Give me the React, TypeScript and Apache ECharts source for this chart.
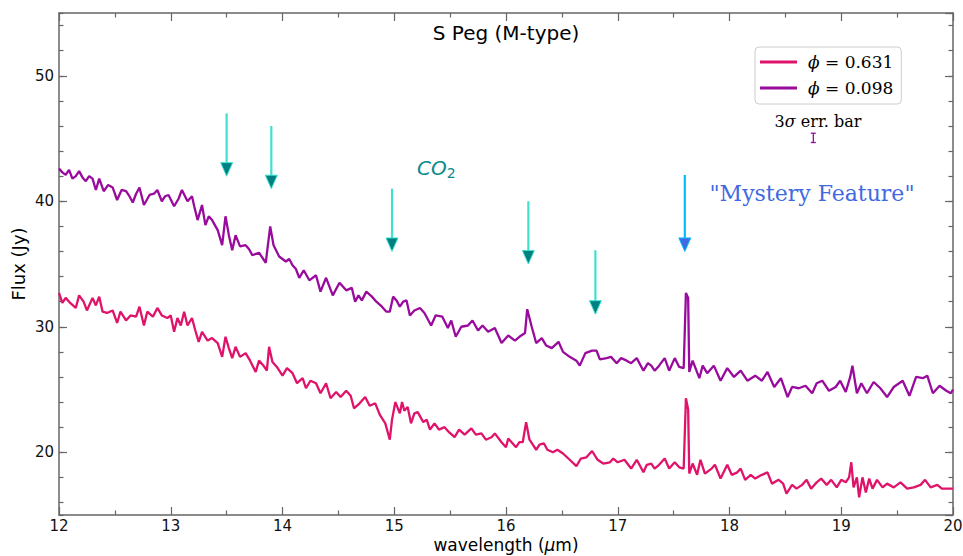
import React, { useEffect, useRef } from "react";
import * as echarts from "echarts";

// wavelength (μm), flux (Jy) — phase 0.631
const phase0631: [number, number][] = [
  [12.0, 32.7], [12.03, 31.9], [12.06, 32.3], [12.1, 31.9], [12.15, 31.5], [12.18, 32.5], [12.22, 32.0], [12.25, 31.3],
  [12.3, 32.3], [12.33, 31.7], [12.36, 32.4], [12.39, 31.2], [12.43, 31.1], [12.48, 31.3], [12.52, 30.3], [12.55, 31.2],
  [12.6, 30.5], [12.64, 30.9], [12.69, 30.8], [12.72, 31.6], [12.76, 30.1], [12.79, 31.2], [12.84, 30.8], [12.88, 31.5],
  [12.92, 30.9], [12.97, 30.7], [13.0, 30.9], [13.03, 29.6], [13.06, 30.7], [13.09, 30.1], [13.12, 31.2], [13.15, 30.1],
  [13.19, 30.7], [13.22, 29.7], [13.25, 28.8], [13.28, 29.6], [13.33, 28.9], [13.37, 29.1], [13.42, 28.7], [13.46, 27.6],
  [13.49, 29.2], [13.52, 28.3], [13.55, 27.5], [13.58, 28.4], [13.62, 27.6], [13.67, 27.9], [13.71, 27.3], [13.76, 26.4],
  [13.79, 27.3], [13.83, 26.9], [13.86, 26.5], [13.88, 28.4], [13.91, 27.2], [13.95, 26.8], [14.0, 26.1], [14.04, 26.7],
  [14.09, 26.3], [14.13, 25.5], [14.18, 25.9], [14.21, 25.1], [14.25, 25.7], [14.3, 25.5], [14.34, 24.7], [14.39, 25.5],
  [14.43, 24.3], [14.48, 24.8], [14.52, 24.4], [14.57, 24.9], [14.61, 24.5], [14.64, 23.5], [14.69, 23.9], [14.74, 24.4],
  [14.78, 23.7], [14.83, 23.9], [14.87, 23.0], [14.92, 22.3], [14.96, 21.0], [14.98, 22.6], [15.01, 24.0], [15.05, 23.1],
  [15.07, 24.0], [15.09, 23.3], [15.12, 23.6], [15.15, 22.3], [15.18, 23.1], [15.21, 23.2], [15.26, 22.4], [15.29, 22.6],
  [15.32, 21.8], [15.36, 22.3], [15.4, 21.8], [15.45, 22.0], [15.49, 21.6], [15.54, 21.2], [15.58, 21.8], [15.63, 21.4],
  [15.69, 21.9], [15.73, 21.4], [15.78, 21.5], [15.82, 21.0], [15.87, 21.2], [15.9, 21.5], [15.96, 20.8], [16.0, 20.4],
  [16.02, 21.1], [16.06, 20.7], [16.09, 20.4], [16.12, 20.8], [16.15, 20.8], [16.18, 22.4], [16.21, 21.0], [16.24, 20.6],
  [16.27, 20.2], [16.3, 20.6], [16.34, 20.7], [16.37, 20.2], [16.42, 20.0], [16.46, 20.2], [16.51, 19.9], [16.57, 19.4],
  [16.63, 18.9], [16.67, 19.5], [16.72, 19.6], [16.77, 20.1], [16.82, 19.4], [16.87, 19.1], [16.93, 19.2], [16.96, 19.5],
  [17.0, 19.2], [17.06, 19.4], [17.12, 18.7], [17.17, 19.4], [17.23, 18.4], [17.26, 19.0], [17.3, 19.1], [17.33, 18.7],
  [17.37, 19.0], [17.42, 19.5], [17.46, 18.7], [17.51, 19.2], [17.55, 18.8], [17.59, 18.7], [17.61, 24.3], [17.63, 23.4],
  [17.64, 18.3], [17.67, 19.1], [17.71, 18.2], [17.74, 19.4], [17.78, 18.3], [17.84, 18.7], [17.87, 19.0], [17.92, 17.9],
  [17.98, 19.0], [18.02, 18.2], [18.07, 18.4], [18.1, 18.7], [18.14, 17.8], [18.19, 18.2], [18.23, 17.9], [18.29, 18.2],
  [18.34, 18.4], [18.38, 17.5], [18.44, 17.8], [18.48, 17.5], [18.51, 16.7], [18.56, 17.4], [18.6, 17.1], [18.65, 17.4],
  [18.69, 17.8], [18.73, 17.1], [18.78, 17.6], [18.82, 17.9], [18.87, 17.4], [18.91, 17.8], [18.96, 17.2], [19.0, 17.8],
  [19.04, 17.6], [19.07, 18.0], [19.09, 19.2], [19.11, 17.2], [19.14, 18.0], [19.16, 16.4], [19.19, 18.0], [19.22, 16.8],
  [19.25, 17.9], [19.28, 17.1], [19.32, 17.8], [19.37, 17.2], [19.41, 17.5], [19.47, 17.2], [19.53, 17.6], [19.59, 17.1],
  [19.65, 17.2], [19.71, 17.4], [19.75, 17.8], [19.8, 17.2], [19.86, 17.4], [19.9, 17.1], [19.96, 17.1], [20.0, 17.1],
];

// wavelength (μm), flux (Jy) — phase 0.098
const phase0098: [number, number][] = [
  [12.0, 42.6], [12.03, 42.3], [12.06, 42.1], [12.09, 42.5], [12.12, 41.8], [12.15, 42.0], [12.18, 42.4], [12.21, 41.9],
  [12.24, 41.6], [12.27, 42.0], [12.3, 41.8], [12.33, 40.9], [12.36, 41.8], [12.4, 40.8], [12.44, 41.3], [12.48, 41.1],
  [12.52, 40.1], [12.56, 40.9], [12.6, 40.8], [12.63, 40.4], [12.66, 39.9], [12.69, 40.6], [12.72, 41.1], [12.76, 39.7],
  [12.81, 40.5], [12.85, 40.6], [12.88, 40.9], [12.92, 40.0], [12.95, 40.4], [12.98, 40.5], [13.03, 39.6], [13.07, 40.2],
  [13.1, 40.9], [13.15, 40.0], [13.19, 40.4], [13.21, 39.6], [13.24, 38.5], [13.28, 39.7], [13.31, 38.1], [13.34, 38.8],
  [13.37, 38.5], [13.42, 37.7], [13.46, 36.5], [13.49, 38.8], [13.52, 37.3], [13.55, 36.1], [13.58, 37.3], [13.62, 36.4],
  [13.67, 36.5], [13.7, 36.2], [13.73, 35.7], [13.79, 35.9], [13.85, 35.1], [13.89, 38.0], [13.92, 36.5], [13.97, 35.6],
  [14.03, 35.2], [14.06, 35.4], [14.09, 34.9], [14.12, 34.6], [14.15, 33.9], [14.19, 34.5], [14.24, 33.7], [14.3, 34.1],
  [14.34, 32.8], [14.39, 33.9], [14.45, 32.5], [14.51, 33.5], [14.57, 32.9], [14.62, 33.1], [14.65, 32.0], [14.68, 32.5],
  [14.71, 32.1], [14.75, 32.8], [14.8, 32.4], [14.84, 32.0], [14.89, 31.6], [14.93, 31.2], [14.96, 31.2], [14.99, 32.4],
  [15.02, 32.1], [15.05, 31.6], [15.08, 32.0], [15.11, 32.1], [15.14, 30.9], [15.18, 31.3], [15.23, 31.5], [15.27, 31.1],
  [15.33, 30.1], [15.37, 30.9], [15.43, 30.8], [15.48, 29.9], [15.51, 30.5], [15.55, 29.2], [15.6, 30.0], [15.66, 30.1],
  [15.7, 30.5], [15.75, 29.7], [15.79, 30.1], [15.84, 29.6], [15.9, 29.9], [15.96, 28.7], [16.02, 29.3], [16.08, 28.9],
  [16.12, 29.2], [16.17, 29.5], [16.19, 31.4], [16.23, 30.0], [16.27, 28.7], [16.32, 29.1], [16.36, 28.5], [16.41, 28.3],
  [16.47, 28.8], [16.51, 28.0], [16.57, 27.6], [16.63, 27.3], [16.66, 26.9], [16.71, 27.9], [16.77, 28.1], [16.81, 28.1],
  [16.84, 27.4], [16.9, 27.5], [16.94, 27.6], [16.99, 27.1], [17.03, 27.5], [17.08, 27.3], [17.12, 27.1], [17.17, 27.5],
  [17.23, 26.5], [17.27, 27.1], [17.3, 26.9], [17.33, 26.5], [17.37, 26.9], [17.42, 27.5], [17.46, 26.5], [17.51, 27.5],
  [17.55, 26.8], [17.59, 26.7], [17.61, 32.7], [17.63, 32.3], [17.64, 26.4], [17.67, 27.3], [17.73, 25.9], [17.76, 26.9],
  [17.8, 26.3], [17.86, 26.9], [17.92, 25.7], [17.98, 26.7], [18.04, 26.0], [18.1, 26.5], [18.16, 25.7], [18.23, 26.1],
  [18.29, 25.7], [18.34, 26.4], [18.4, 25.2], [18.46, 25.9], [18.52, 24.4], [18.56, 25.2], [18.62, 25.1], [18.68, 25.3],
  [18.74, 24.7], [18.78, 25.5], [18.83, 25.7], [18.89, 24.9], [18.95, 25.2], [18.99, 25.7], [19.04, 24.8], [19.08, 26.0],
  [19.1, 26.9], [19.14, 24.7], [19.18, 25.5], [19.23, 24.7], [19.29, 25.6], [19.35, 25.1], [19.41, 24.4], [19.47, 25.2],
  [19.55, 25.7], [19.61, 24.5], [19.67, 26.0], [19.73, 25.9], [19.77, 26.1], [19.82, 24.7], [19.88, 25.3], [19.94, 24.9],
  [19.98, 24.7], [20.0, 25.0],
];

// CO2 arrows: wavelength, top of shaft, tip (Jy)
const co2ArrowX = [13.5, 13.9, 14.98, 16.2, 16.8];
const co2ArrowTop = [47.0, 46.0, 41.0, 40.0, 36.1];
const co2ArrowTip = [42.0, 41.0, 36.0, 35.0, 31.0];

// "Mystery Feature" arrow
const mysteryArrowX = [17.6];
const mysteryArrowTop = [42.1];
const mysteryArrowTip = [36.0];

// 3σ error bar sample: wavelength, flux, half-size
const errBarX = [18.75];
const errBarY = [45.05];
const errBarHalf = [0.37];

const seriesNames = ["ϕ = 0.631", "ϕ = 0.098"];
const xLabels = [12, 13, 14, 15, 16, 17, 18, 19, 20];

const PINK = "#e0136b";
const PURPLE = "#990b9c";
const SPINE = "#666666";
const TEAL = "#0a8a8a";

function arrowRenderer(shaftColor: string, headFill: string) {
  return (params: any, api: any) => {
    const x = api.value(0);
    const p0 = api.coord([x, api.value(1)]);
    const p1 = api.coord([x, api.value(2)]);
    const hh = 13.5;
    const hw = 6;
    return {
      type: "group",
      children: [
        {
          type: "line",
          shape: { x1: p0[0], y1: p0[1], x2: p1[0], y2: p1[1] - hh + 1 },
          style: { stroke: shaftColor, lineWidth: 2.2 },
        },
        {
          type: "polygon",
          shape: {
            points: [
              [p1[0] - hw, p1[1] - hh],
              [p1[0] + hw, p1[1] - hh],
              [p1[0], p1[1]],
            ],
          },
          style: { fill: headFill, stroke: shaftColor, lineWidth: 1 },
        },
      ],
    };
  };
}

export default function App() {
  const ref = useRef<HTMLDivElement>(null);

  useEffect(() => {
    if (!ref.current) return;
    const chart = echarts.init(ref.current, null, { renderer: "svg" });

    const tickBase = {
      show: true,
      inside: true,
      lineStyle: { color: SPINE, width: 1.2 },
    };

    const option: any = {
      animation: false,
      backgroundColor: "#ffffff",
      grid: { left: 59, right: 10, top: 13, bottom: 41, containLabel: false, outerBoundsMode: "none" },
      legend: {
        data: seriesNames,
        orient: "vertical",
        left: 755,
        top: 47,
        padding: [5, 8, 6, 5],
        itemGap: 6,
        itemWidth: 37,
        itemHeight: 3,
        icon: "rect",
        borderColor: "#cccccc",
        borderWidth: 1,
        borderRadius: 4,
        backgroundColor: "rgba(255,255,255,0.85)",
        formatter: (name: string) => `{i|ϕ}{n|${name.slice(1)}}`,
        textStyle: {
          lineHeight: 20,
          rich: {
            i: { fontFamily: "DejaVu Serif", fontStyle: "italic", fontSize: 17, color: "#000", padding: [0, 0, 0, 6] },
            n: { fontFamily: "DejaVu Serif", fontSize: 17, color: "#000" },
          },
        },
      },
      xAxis: [
        {
          type: "value",
          min: 12,
          max: 20,
          interval: 1,
          position: "bottom",
          axisLine: { show: true, onZero: false, lineStyle: { color: SPINE, width: 1.5 } },
          axisTick: { ...tickBase, length: 8 },
          minorTick: { show: true, splitNumber: 2, length: 4.5, lineStyle: { color: SPINE, width: 1.2 } },
          splitLine: { show: false },
          axisLabel: {
            fontFamily: "DejaVu Sans",
            fontSize: 15,
            color: "#111",
            margin: 3,
            formatter: (v: number) => (xLabels.includes(v) ? String(v) : ""),
          },
          name: "{n|wavelength (}{i|μ}{n|m)}",
          nameLocation: "middle",
          nameGap: 21,
          nameMoveOverlap: false,
          nameTextStyle: {
            verticalAlign: "top",
            rich: {
              n: { fontFamily: "DejaVu Sans", fontSize: 17, color: "#000" },
              i: { fontFamily: "DejaVu Sans", fontStyle: "italic", fontSize: 17, color: "#000" },
            },
          },
        },
        {
          type: "value",
          min: 12,
          max: 20,
          interval: 1,
          position: "top",
          axisLine: { show: true, onZero: false, lineStyle: { color: SPINE, width: 1.5 } },
          axisTick: { ...tickBase, length: 8 },
          minorTick: { show: true, splitNumber: 2, length: 4.5, lineStyle: { color: SPINE, width: 1.2 } },
          splitLine: { show: false },
          axisLabel: { show: false },
        },
      ],
      yAxis: [
        {
          type: "value",
          min: 15,
          max: 55,
          splitNumber: 4,
          position: "left",
          axisLine: { show: true, onZero: false, lineStyle: { color: SPINE, width: 1.5 } },
          axisTick: { ...tickBase, length: 8 },
          splitLine: { show: false },
          axisLabel: {
            fontFamily: "DejaVu Sans",
            fontSize: 15,
            color: "#111",
            margin: 5,
            showMinLabel: false,
            showMaxLabel: false,
          },
          name: "Flux (Jy)",
          nameLocation: "middle",
          nameGap: 32,
          nameMoveOverlap: false,
          nameTextStyle: { fontFamily: "DejaVu Sans", fontSize: 18, color: "#000" },
        },
        {
          type: "value",
          min: 15,
          max: 55,
          splitNumber: 4,
          position: "right",
          axisLine: { show: true, onZero: false, lineStyle: { color: SPINE, width: 1.5 } },
          axisTick: { ...tickBase, length: 8 },
          splitLine: { show: false },
          axisLabel: { show: false },
        },
        {
          type: "value",
          min: 15,
          max: 55,
          splitNumber: 20,
          position: "left",
          axisLine: { show: false },
          axisTick: { ...tickBase, length: 4.5 },
          splitLine: { show: false },
          axisLabel: { show: false },
        },
        {
          type: "value",
          min: 15,
          max: 55,
          splitNumber: 20,
          position: "right",
          axisLine: { show: false },
          axisTick: { ...tickBase, length: 4.5 },
          splitLine: { show: false },
          axisLabel: { show: false },
        },
      ],
      series: [
        {
          name: seriesNames[0],
          type: "line",
          data: phase0631,
          symbol: "none",
          lineStyle: { color: PINK, width: 2.3 },
          itemStyle: { color: PINK },
          z: 3,
        },
        {
          name: seriesNames[1],
          type: "line",
          data: phase0098,
          symbol: "none",
          lineStyle: { color: PURPLE, width: 2.3 },
          itemStyle: { color: PURPLE },
          z: 3,
        },
        {
          name: "co2arrows",
          type: "custom",
          renderItem: arrowRenderer("#40e0d0", "#008080"),
          data: co2ArrowX.map((x, i) => [x, co2ArrowTop[i], co2ArrowTip[i]]),
          encode: { x: 0, y: [1, 2] },
          z: 4,
        },
        {
          name: "mysteryarrow",
          type: "custom",
          renderItem: arrowRenderer("#00bfff", "#4169e1"),
          data: mysteryArrowX.map((x, i) => [x, mysteryArrowTop[i], mysteryArrowTip[i]]),
          encode: { x: 0, y: [1, 2] },
          z: 4,
        },
        {
          name: "errbar",
          type: "custom",
          renderItem: (params: any, api: any) => {
            const x = api.value(0);
            const y = api.value(1);
            const h = api.value(2);
            const pt = api.coord([x, y + h]);
            const pb = api.coord([x, y - h]);
            const cw = 2.5;
            const st = { stroke: PURPLE, lineWidth: 1.3 };
            return {
              type: "group",
              children: [
                { type: "line", shape: { x1: pt[0], y1: pt[1], x2: pb[0], y2: pb[1] }, style: st },
                { type: "line", shape: { x1: pt[0] - cw, y1: pt[1], x2: pt[0] + cw, y2: pt[1] }, style: st },
                { type: "line", shape: { x1: pb[0] - cw, y1: pb[1], x2: pb[0] + cw, y2: pb[1] }, style: st },
              ],
            };
          },
          data: errBarX.map((x, i) => [x, errBarY[i], errBarHalf[i]]),
          encode: { x: 0, y: 1 },
          z: 4,
        },
      ],
      graphic: [
        {
          type: "text",
          x: 506,
          y: 33,
          style: {
            text: "S Peg (M-type)",
            fontFamily: "DejaVu Sans",
            fontSize: 20,
            fill: "#000",
            align: "center",
            verticalAlign: "middle",
          },
        },
        {
          type: "text",
          x: 417,
          y: 168,
          style: {
            text: "{a|CO}{b|2}",
            fill: TEAL,
            align: "left",
            verticalAlign: "middle",
            rich: {
              a: { fontFamily: "DejaVu Sans", fontStyle: "italic", fontSize: 20, fill: TEAL, color: TEAL },
              b: { fontFamily: "DejaVu Sans", fontSize: 14, fill: TEAL, color: TEAL, padding: [10, 0, 0, 0] },
            },
          },
        },
        {
          type: "text",
          x: 812,
          y: 193,
          style: {
            text: '"Mystery Feature"',
            fontFamily: "DejaVu Serif",
            fontSize: 22,
            fill: "#4169e1",
            align: "center",
            verticalAlign: "middle",
          },
        },
        {
          type: "text",
          x: 818,
          y: 121,
          style: {
            text: "{n|3}{s|σ}{n| err. bar}",
            fill: "#000",
            align: "center",
            verticalAlign: "middle",
            rich: {
              n: { fontFamily: "DejaVu Serif", fontSize: 16, fill: "#000" },
              s: { fontFamily: "DejaVu Serif", fontStyle: "italic", fontSize: 16, fill: "#000" },
            },
          },
        },
      ],
    };

    chart.setOption(option);
    return () => chart.dispose();
  }, []);

  return (
    <div
      ref={ref}
      style={{ position: "absolute", left: 0, top: 0, width: 963, height: 556 }}
    />
  );
}
